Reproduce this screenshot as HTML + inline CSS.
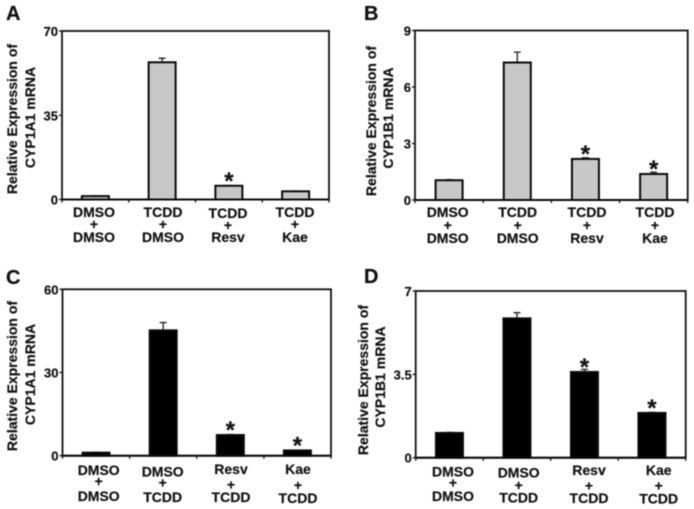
<!DOCTYPE html>
<html>
<head>
<meta charset="utf-8">
<title>Relative expression of CYP1A1 and CYP1B1 mRNA</title>
<style>
html,body{margin:0;padding:0;background:#fff;width:694px;height:509px;overflow:hidden}
svg{display:block;filter:blur(0.4px)}
text{font-family:"Liberation Sans",sans-serif;font-weight:bold;fill:#111;stroke:#111;stroke-width:0.2px}
</style>
</head>
<body>
<svg id="figure" xmlns="http://www.w3.org/2000/svg" width="694" height="509" viewBox="0 0 694 509"></svg>
<script>
const panelALabels = [["DMSO","+","DMSO"],["TCDD","+","DMSO"],["TCDD","+","Resv"],["TCDD","+","Kae"]];
const panelAValues = [1.4, 57, 5.7, 3.4];
const panelAErrors = [0.1, 1.7, 0.1, 0.1];
const panelAStars = [false, false, true, false];
const panelATicks = [0, 35, 70];

const panelBLabels = [["DMSO","+","DMSO"],["TCDD","+","DMSO"],["TCDD","+","Resv"],["TCDD","+","Kae"]];
const panelBValues = [1.05, 7.3, 2.18, 1.38];
const panelBErrors = [0.03, 0.55, 0.06, 0.1];
const panelBStars = [false, false, true, true];
const panelBTicks = [0, 3, 6, 9];

const panelCLabels = [["DMSO","+","DMSO"],["DMSO","+","TCDD"],["Resv","+","TCDD"],["Kae","+","TCDD"]];
const panelCValues = [1.1, 45.2, 7.45, 1.9];
const panelCErrors = [0.15, 2.8, 0.2, 0.1];
const panelCStars = [false, false, true, true];
const panelCTicks = [0, 30, 60];

const panelDLabels = [["DMSO","+","DMSO"],["DMSO","+","TCDD"],["Resv","+","TCDD"],["Kae","+","TCDD"]];
const panelDValues = [1.04, 5.85, 3.6, 1.88];
const panelDErrors = [0.02, 0.24, 0.11, 0.02];
const panelDStars = [false, false, true, true];
const panelDTicks = [0, 3.5, 7];

const NS = "http://www.w3.org/2000/svg";
const root = document.getElementById("figure");

function add(parent, tag, attrs, content) {
  const node = document.createElementNS(NS, tag);
  for (const key in attrs) node.setAttribute(key, attrs[key]);
  if (content !== undefined) node.textContent = content;
  parent.appendChild(node);
  return node;
}

function drawPanel(p) {
  const yMax = p.ticks[p.ticks.length - 1];
  const y = v => p.bottom - (v / yMax) * (p.bottom - p.top);
  const band = (p.right - p.left) / p.values.length;
  const x = i => p.left + (i + 0.5) * band;
  const id = p.letter.toLowerCase();

  const g = add(root, "g", {});
  
  

  const letter = add(g, "text", {x: p.letterX, y: p.letterY, "font-size": 20}, p.letter);
  
  

  p.title.forEach((line, i) => {
    const t = add(g, "text", {
      transform: "translate(" + p.titleX[i] + "," + p.titleY[i] + ") rotate(-90)",
      "text-anchor": "middle", "font-size": 14
    }, line);
    
    
  });

  p.values.forEach((v, i) => {
    const barW = 27;
    const errTop = y(v + p.errors[i]);
    const err = add(g, "path", {
      d: "M" + x(i) + " " + y(v) + "V" + errTop + "M" + (x(i) - 3.5) + " " + errTop + "H" + (x(i) + 3.5),
      fill: "none", stroke: "#222", "stroke-width": 1.3
    });
    
    

    const bar = add(g, "rect", {
      x: x(i) - barW / 2, y: y(v), width: barW, height: p.bottom - y(v),
      fill: p.fill, stroke: "#0a0a0a", "stroke-width": 2
    });
    
    

    if (p.stars[i]) {
      const star = add(g, "text", {
        x: x(i), y: y(v) + 3, "text-anchor": "middle", "font-size": 24
      }, "*");
      
      
    }

    p.labels[i].forEach((line, row) => {
      const lab = add(g, "text", {
        x: p.labelX[i], y: p.labelY[i][row], "text-anchor": "middle", "font-size": 14
      }, line);
      
      
    });
  });

  const frame = add(g, "rect", {
    x: p.left, y: p.top, width: p.right - p.left, height: p.bottom - p.top,
    fill: "none", stroke: "#111", "stroke-width": 1.8
  });
  
  

  const baseline = add(g, "line", {
    x1: p.left, x2: p.right, y1: p.bottom, y2: p.bottom, stroke: "#0a0a0a", "stroke-width": 2
  });
  
  

  p.ticks.forEach(t => {
    const tick = add(g, "line", {
      x1: p.left - 3, x2: p.left, y1: y(t), y2: y(t), stroke: "#1a1a1a", "stroke-width": 1.4
    });
    
    

    const lab = add(g, "text", {
      x: p.left - 4, y: y(t) + 5, "text-anchor": "end", "font-size": 13
    }, String(t));
    
    
  });

  for (let i = 0; i <= p.values.length; i++) {
    const tx = p.left + i * band;
    const tick = add(g, "line", {
      x1: tx, x2: tx, y1: p.bottom, y2: p.bottom + 3, stroke: "#1a1a1a", "stroke-width": 1.4
    });
    
    
  }
}

drawPanel({
  letter: "A", letterX: 6, letterY: 20,
  left: 62, right: 329, top: 31, bottom: 199.5, fill: "#c8c8c8",
  title: ["Relative Expression of", "CYP1A1 mRNA"], titleX: [17, 35], titleY: [119, 117.5],
  labels: panelALabels, values: panelAValues, errors: panelAErrors, stars: panelAStars, ticks: panelATicks,
  labelX: [94, 163, 228, 295],
  labelY: [[217, 229, 242], [217, 229, 242], [218, 230, 242], [217, 229, 242]]
});

drawPanel({
  letter: "B", letterX: 364, letterY: 20,
  left: 415, right: 687.7, top: 30.5, bottom: 200, fill: "#c8c8c8",
  title: ["Relative Expression of", "CYP1B1 mRNA"], titleX: [376, 393], titleY: [121, 118],
  labels: panelBLabels, values: panelBValues, errors: panelBErrors, stars: panelBStars, ticks: panelBTicks,
  labelX: [447.7, 517.7, 587, 655],
  labelY: [[217, 230, 243], [217, 230, 243], [217, 230, 243], [217, 230, 243]]
});

drawPanel({
  letter: "C", letterX: 6, letterY: 284,
  left: 62.5, right: 331, top: 289.3, bottom: 455.7, fill: "#000",
  title: ["Relative Expression of", "CYP1A1 mRNA"], titleX: [17, 35], titleY: [376, 374.5],
  labels: panelCLabels, values: panelCValues, errors: panelCErrors, stars: panelCStars, ticks: panelCTicks,
  labelX: [98.7, 162.7, 231, 298],
  labelY: [[475, 486, 501], [476.7, 487.5, 502], [474, 489.5, 502], [474, 490, 503]]
});

drawPanel({
  letter: "D", letterX: 364, letterY: 283,
  left: 415.7, right: 685.7, top: 291, bottom: 457.7, fill: "#000",
  title: ["Relative Expression of", "CYP1B1 mRNA"], titleX: [368, 385], titleY: [380, 377],
  labels: panelDLabels, values: panelDValues, errors: panelDErrors, stars: panelDStars, ticks: panelDTicks,
  labelX: [453, 518.7, 589, 658.7],
  labelY: [[476.7, 487.5, 501], [477.7, 490, 502.7], [475, 490.5, 503], [475, 490.5, 503.5]]
});
</script>
</body>
</html>
